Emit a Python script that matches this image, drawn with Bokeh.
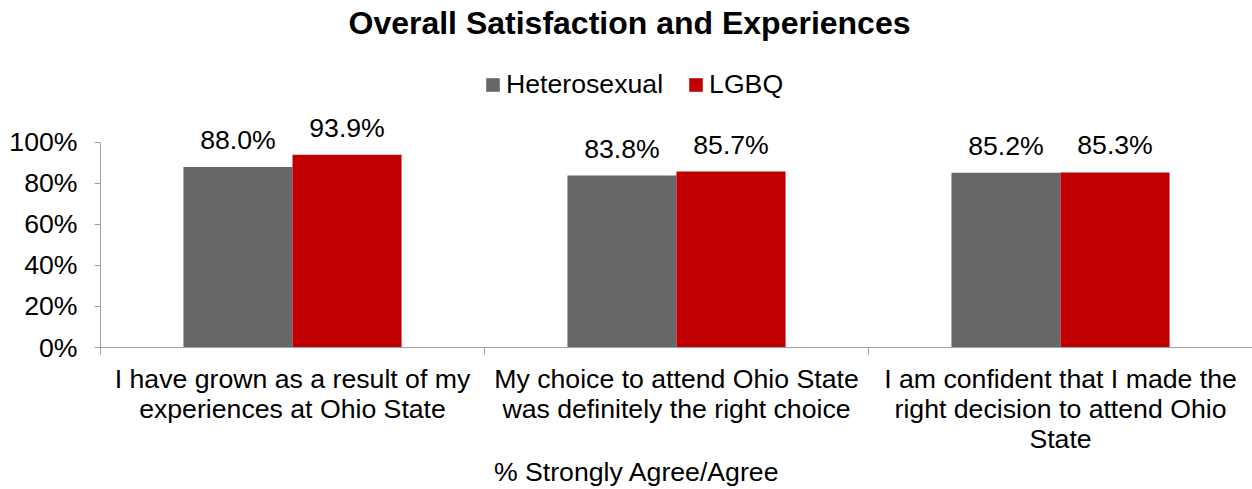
from bokeh.plotting import figure
from bokeh.models import (ColumnDataSource, Range1d, FixedTicker, NumeralTickFormatter,
                          Legend, LegendItem, Label, LinearAxis)
from bokeh.core.properties import value
from bokeh.embed import file_html
from bokeh.resources import INLINE

title_text = "Overall Satisfaction and Experiences"
x_title = "% Strongly Agree/Agree"
categories = [
    "I have grown as a result of my\nexperiences at Ohio State",
    "My choice to attend Ohio State\nwas definitely the right choice",
    "I am confident that I made the\nright decision to attend Ohio\nState",
]
series = ["Heterosexual", "LGBQ"]
heterosexual = [88.0, 83.8, 85.2]
lgbq = [93.9, 85.7, 85.3]
y_ticks = [0, 20, 40, 60, 80, 100]

colors = ["#666666", "#C00000"]
FONT = "Liberation Sans"
FS = "26.67px"
AXIS_COL = "#A0A0A0"

idx = list(range(len(categories)))
bar_w = 0.284
offsets = [-bar_w / 2, bar_w / 2]

p = figure(width=1252, height=489,
           x_range=Range1d(-0.5, 2.5), y_range=Range1d(0, 1.6908),
           output_backend="svg", toolbar_location=None,
           min_border_left=100, min_border_right=0,
           min_border_top=0, min_border_bottom=139)
p.outline_line_color = None
p.xgrid.visible = False
p.ygrid.visible = False

legend_items = []
for name, vals, col, off in zip(series, [heterosexual, lgbq], colors, offsets):
    src = ColumnDataSource(dict(
        x=[i + off for i in idx],
        top=[v / 100 for v in vals],
        label=[f"{v:.1f}%" for v in vals],
    ))
    r = p.vbar(x="x", top="top", bottom=0, width=bar_w, source=src,
               fill_color=col, line_color=None)
    p.text(x="x", y="top", text="label", source=src,
           text_font=value(FONT), text_font_size=FS, text_color="#000000",
           text_align="center", text_baseline="alphabetic", y_offset=-27)
    legend_items.append(LegendItem(label=name, renderers=[r]))

legend = Legend(items=legend_items, orientation="horizontal", location=(384, 247),
                glyph_width=17, glyph_height=17, label_standoff=5, spacing=24,
                padding=0, margin=0, border_line_color=None, background_fill_alpha=0,
                label_text_font=FONT, label_text_font_size=FS, label_text_color="#000000")
p.add_layout(legend)

# y axis
ya = p.yaxis[0]
ya.ticker = FixedTicker(ticks=[t / 100 for t in y_ticks])
ya.formatter = NumeralTickFormatter(format="0%")
ya.bounds = (0, 1)
ya.axis_line_color = AXIS_COL
ya.major_tick_line_color = AXIS_COL
ya.major_tick_out = 6
ya.major_tick_in = 0
ya.minor_tick_line_color = None
ya.major_label_standoff = 17
ya.major_label_text_font = FONT
ya.major_label_text_font_size = FS
ya.major_label_text_color = "#000000"

# x axis (category labels, boundary ticks)
xa = p.xaxis[0]
xa.ticker = FixedTicker(ticks=idx, minor_ticks=[i - 0.5 for i in idx] + [len(idx) - 0.5])
xa.major_label_overrides = {i: c for i, c in enumerate(categories)}
xa.axis_line_color = AXIS_COL
xa.major_tick_line_color = None
xa.major_tick_out = 0
xa.major_tick_in = 0
xa.minor_tick_line_color = AXIS_COL
xa.minor_tick_out = 7
xa.minor_tick_in = 0
xa.major_label_standoff = 9
xa.major_label_text_font = FONT
xa.major_label_text_font_size = FS
xa.major_label_text_color = "#000000"
xa.major_label_text_line_height = 1.0

# x axis title, drawn as a second axis below the first
x_title_pos = 0.897
xa2 = LinearAxis(ticker=FixedTicker(ticks=[x_title_pos]),
                 major_label_overrides={x_title_pos: x_title})
xa2.axis_line_color = None
xa2.major_tick_line_color = None
xa2.minor_tick_line_color = None
xa2.major_tick_out = 0
xa2.major_tick_in = 0
xa2.minor_tick_out = 0
xa2.minor_tick_in = 0
xa2.major_label_standoff = 0
xa2.major_label_text_font = FONT
xa2.major_label_text_font_size = FS
xa2.major_label_text_color = "#000000"
p.add_layout(xa2, "below")

p.add_layout(Label(x=0.8776, y=1.58, text=title_text, text_font=FONT,
                   text_font_style="bold", text_font_size="32px", text_color="#000000",
                   text_align="center", text_baseline="alphabetic"))

open("out.html", "w").write(file_html(p, INLINE))
